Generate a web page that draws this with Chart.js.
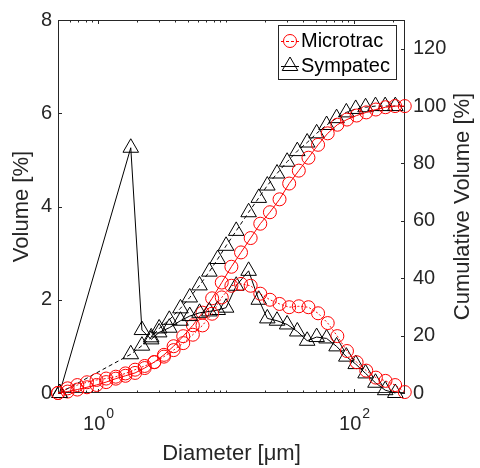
<!DOCTYPE html>
<html>
<head>
<meta charset="utf-8">
<script src="https://cdn.jsdelivr.net/npm/chart.js@4.4.1/dist/chart.umd.min.js"></script>
<style>
  html, body { margin: 0; padding: 0; background: #fff; }
  canvas { display: block; }
</style>
</head>
<body>
<canvas id="psdChart" width="480" height="468"></canvas>
<script>
// Microtrac channels (um) and values
const microtracSize = [0.486, 0.578, 0.688, 0.818, 0.972, 1.156, 1.375, 1.635, 1.945, 2.312, 2.75, 3.27, 3.89, 4.625, 5.5, 6.54, 7.78, 9.25, 11.0, 13.08, 15.56, 18.5, 22.0, 26.16, 31.11, 37.0, 44.0, 52.33, 62.23, 74.0, 88.0, 104.7, 124.5, 148.0, 176.0, 209.3, 248.9];
const microtracVolume = [0.00, 0.10, 0.17, 0.23, 0.28, 0.31, 0.35, 0.42, 0.50, 0.58, 0.66, 0.78, 0.92, 1.07, 1.25, 1.45, 1.70, 2.05, 2.30, 2.34, 2.30, 2.13, 2.00, 1.91, 1.84, 1.86, 1.84, 1.71, 1.50, 1.22, 0.90, 0.66, 0.48, 0.33, 0.26, 0.17, 0.02];
const microtracCumulative = [0, 0.5, 1.2, 2.0, 2.8, 3.8, 5.0, 6.0, 7.0, 8.7, 10.8, 13.3, 16.3, 19.8, 23.6, 28.0, 33.0, 38.5, 44.0, 49.0, 54.0, 59.0, 63.0, 67.5, 73.0, 77.5, 82.0, 86.5, 90.5, 93.5, 95.3, 96.7, 97.8, 98.8, 99.6, 100, 100];

// Sympatec channels (um) and values
const sympatecSize = [0.5, 1.8, 2.2, 2.6, 3.0, 3.6, 4.4, 5.2, 6.2, 7.4, 8.6, 10, 12, 15, 18, 21, 25, 30, 36, 43, 51, 61, 73, 87, 103, 123, 147, 175, 210];
const sympatecVolume = [0, 5.26, 1.35, 1.15, 1.30, 1.40, 1.55, 1.65, 1.72, 1.75, 1.78, 1.83, 2.30, 2.62, 2.00, 1.60, 1.55, 1.47, 1.32, 1.12, 1.20, 1.17, 1.00, 0.78, 0.62, 0.42, 0.22, 0.06, 0];
const sympatecCumulative = [0, 13.5, 16.5, 19.4, 22.5, 25.5, 29.5, 33.3, 37.5, 42.3, 46.7, 51.3, 56.5, 63.0, 68.0, 72.3, 76.5, 80.6, 84.3, 87.3, 90.5, 93.4, 95.8, 97.8, 99.0, 99.6, 100, 100, 100];

// axis ticks
const xLabelValues = [1, 100];
const xLabelExponents = ['0', '2'];
const xMinorTicks = [0.6, 0.7, 0.8, 0.9, 2, 3, 4, 5, 6, 7, 8, 9, 10, 20, 30, 40, 50, 60, 70, 80, 90, 200];
const legendNames = ['Microtrac', 'Sympatec'];

const FONT = "'Liberation Sans', Arial, Helvetica, sans-serif";
const AXIS = '#262626';
const RED = '#ff0000';
const CIRCLE_R = 6.5;
const TRI_R = 9;

function pts(xs, ys) {
  return xs.map((x, i) => ({ x: x, y: ys[i] }));
}

// box, inward tick marks, right title, x labels, legend
const matlabAxes = {
  id: 'matlabAxes',
  beforeDatasetsDraw(chart) {
    const { ctx, chartArea: a, scales } = chart;
    ctx.save();
    ctx.strokeStyle = AXIS;
    ctx.lineWidth = 1;
    ctx.strokeRect(a.left + 0.5, a.top + 0.5, a.right - a.left - 1, a.bottom - a.top - 1);
    ctx.beginPath();
    scales.y.ticks.forEach(t => {
      const py = Math.round(scales.y.getPixelForValue(t.value)) + 0.5;
      ctx.moveTo(a.left, py); ctx.lineTo(a.left + 4, py);
    });
    scales.y2.ticks.forEach(t => {
      if (t.value % 20 !== 0) return;
      const py = Math.round(scales.y2.getPixelForValue(t.value)) + 0.5;
      ctx.moveTo(a.right, py); ctx.lineTo(a.right - 4, py);
    });
    xLabelValues.forEach(v => {
      const px = Math.round(scales.x.getPixelForValue(v)) + 0.5;
      ctx.moveTo(px, a.bottom); ctx.lineTo(px, a.bottom - 4);
      ctx.moveTo(px, a.top); ctx.lineTo(px, a.top + 4);
    });
    xMinorTicks.forEach(v => {
      const px = Math.round(scales.x.getPixelForValue(v)) + 0.5;
      ctx.moveTo(px, a.bottom); ctx.lineTo(px, a.bottom - 2.5);
      ctx.moveTo(px, a.top); ctx.lineTo(px, a.top + 2.5);
    });
    ctx.stroke();
    ctx.restore();
  },
  afterDraw(chart) {
    const { ctx, chartArea: a, scales } = chart;
    ctx.save();
    ctx.fillStyle = AXIS;
    // x tick labels 10^n
    xLabelValues.forEach((v, i) => {
      const px = scales.x.getPixelForValue(v);
      ctx.font = '20px ' + FONT;
      const wb = ctx.measureText('10').width;
      ctx.font = '14px ' + FONT;
      const we = ctx.measureText(xLabelExponents[i]).width;
      const x0 = px - (wb + we) / 2;
      ctx.textAlign = 'left';
      ctx.textBaseline = 'alphabetic';
      ctx.font = '20px ' + FONT;
      ctx.fillText('10', x0, 430);
      ctx.font = '14px ' + FONT;
      ctx.fillText(xLabelExponents[i], x0 + wb + 1, 418);
    });
    // right axis title, reading upward
    ctx.font = '22px ' + FONT;
    ctx.textAlign = 'center';
    ctx.textBaseline = 'middle';
    ctx.translate(463, (a.top + a.bottom) / 2);
    ctx.rotate(-Math.PI / 2);
    ctx.fillText('Cumulative Volume [%]', 0, 0);
    ctx.restore();

    // legend
    ctx.save();
    const lx = 278, ly = 25, lw = 119, lh = 55;
    ctx.fillStyle = '#fff';
    ctx.fillRect(lx, ly, lw, lh);
    ctx.strokeStyle = AXIS;
    ctx.lineWidth = 1;
    ctx.strokeRect(lx + 0.5, ly + 0.5, lw - 1, lh - 1);
    const rows = [
      { y: 41, color: RED, dash: [3, 2], style: 'circle', r: CIRCLE_R },
      { y: 66, color: '#000', dash: [], style: 'triangle', r: TRI_R }
    ];
    rows.forEach((row, i) => {
      ctx.strokeStyle = row.color;
      ctx.setLineDash(row.dash);
      ctx.beginPath();
      ctx.moveTo(281, row.y + 0.5); ctx.lineTo(299, row.y + 0.5);
      ctx.stroke();
      ctx.setLineDash([]);
      ctx.fillStyle = 'rgba(0,0,0,0)';
      Chart.helpers.drawPoint(ctx, { pointStyle: row.style, radius: row.r, borderWidth: 1 }, 290, row.y);
      ctx.fillStyle = '#000';
      ctx.font = '20px ' + FONT;
      ctx.textAlign = 'left';
      ctx.textBaseline = 'middle';
      ctx.fillText(legendNames[i], 301, row.y);
    });
    ctx.restore();
  }
};

const common = { showLine: true, fill: false, borderWidth: 1, tension: 0, clip: false, pointBackgroundColor: 'rgba(0,0,0,0)', pointBorderWidth: 1 };

new Chart(document.getElementById('psdChart').getContext('2d'), {
  type: 'line',
  data: {
    datasets: [
      Object.assign({}, common, {
        label: 'Microtrac', data: pts(microtracSize, microtracVolume), yAxisID: 'y',
        borderColor: RED, borderDash: [2, 2], pointStyle: 'circle', pointRadius: CIRCLE_R, pointBorderColor: RED
      }),
      Object.assign({}, common, {
        label: 'Sympatec', data: pts(sympatecSize, sympatecVolume), yAxisID: 'y',
        borderColor: '#000', pointStyle: 'triangle', pointRadius: TRI_R, pointBorderColor: '#000'
      }),
      Object.assign({}, common, {
        label: 'Microtrac cumulative', data: pts(microtracSize, microtracCumulative), yAxisID: 'y2',
        borderColor: RED, pointStyle: 'circle', pointRadius: CIRCLE_R, pointBorderColor: RED
      }),
      Object.assign({}, common, {
        label: 'Sympatec cumulative', data: pts(sympatecSize, sympatecCumulative), yAxisID: 'y2',
        borderColor: '#000', borderDash: [4, 3], pointStyle: 'triangle', pointRadius: TRI_R, pointBorderColor: '#000'
      })
    ]
  },
  options: {
    responsive: false,
    animation: false,
    events: [],
    layout: { padding: { top: 17, left: 0, right: 0, bottom: 0 } },
    plugins: { legend: { display: false }, tooltip: { enabled: false } },
    scales: {
      x: {
        type: 'logarithmic', min: 0.486, max: 250,
        grid: { display: false, drawTicks: false }, border: { display: false },
        ticks: { display: false },
        title: { display: true, text: 'Diameter [μm]', color: AXIS, font: { family: FONT, size: 22 }, padding: { top: 0, bottom: 1 } },
        afterFit: s => { s.height = 75; }
      },
      y: {
        position: 'left', min: 0, max: 8,
        grid: { display: false, drawTicks: false }, border: { display: false },
        ticks: { stepSize: 2, padding: 6, color: AXIS, font: { family: FONT, size: 20 } },
        title: { display: true, text: 'Volume [%]', color: AXIS, font: { family: FONT, size: 22 }, padding: { top: 9, bottom: 0 } },
        afterFit: s => { s.width = 58; }
      },
      y2: {
        position: 'right', min: 0, max: 130,
        grid: { display: false, drawTicks: false }, border: { display: false },
        ticks: { stepSize: 20, includeBounds: false, padding: 8, color: AXIS, font: { family: FONT, size: 20 },
          callback: v => (v % 20 === 0 ? v : '') },
        afterFit: s => { s.width = 75; }
      }
    }
  },
  plugins: [matlabAxes]
});
</script>
</body>
</html>
